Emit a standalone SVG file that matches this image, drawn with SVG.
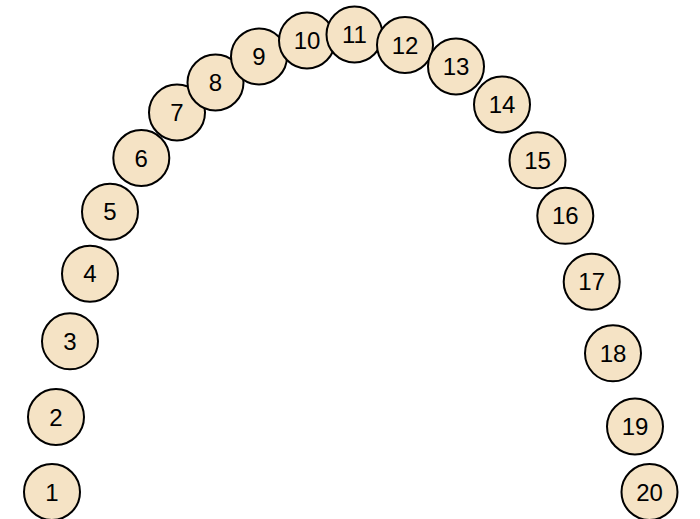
<svg xmlns="http://www.w3.org/2000/svg" width="700" height="519" viewBox="0 0 700 519">
<style>
circle{fill:#f5e3c5;stroke:#000;stroke-width:2}
text{font-family:"Liberation Sans",Arial,sans-serif;font-size:24px;fill:#000;text-anchor:middle;dominant-baseline:central}
</style>
<rect width="700" height="519" fill="#fff"/>
<g id="connectors"></g>
<g id="n1"><circle cx="52" cy="492" r="28"/><text x="52" y="492">1</text></g>
<g id="n2"><circle cx="56" cy="417" r="28"/><text x="56" y="417">2</text></g>
<g id="n3"><circle cx="70" cy="341.3" r="28"/><text x="70" y="341.3">3</text></g>
<g id="n4"><circle cx="90" cy="273.7" r="28"/><text x="90" y="273.7">4</text></g>
<g id="n5"><circle cx="110" cy="211.7" r="28"/><text x="110" y="211.7">5</text></g>
<g id="n6"><circle cx="141.3" cy="158" r="28"/><text x="141.3" y="158">6</text></g>
<g id="n7"><circle cx="177" cy="112.5" r="28"/><text x="177" y="112.5">7</text></g>
<g id="n8"><circle cx="215.5" cy="82.5" r="28"/><text x="215.5" y="82.5">8</text></g>
<g id="n9"><circle cx="259" cy="56.5" r="28"/><text x="259" y="56.5">9</text></g>
<g id="n10"><circle cx="307" cy="40.5" r="28"/><text x="307" y="40.5">10</text></g>
<g id="n11"><circle cx="354.5" cy="34.5" r="28"/><text x="354.5" y="34.5">11</text></g>
<g id="n12"><circle cx="405" cy="45" r="28"/><text x="405" y="45">12</text></g>
<g id="n13"><circle cx="456" cy="66.5" r="28"/><text x="456" y="66.5">13</text></g>
<g id="n14"><circle cx="502" cy="104.5" r="28"/><text x="502" y="104.5">14</text></g>
<g id="n15"><circle cx="537.5" cy="160.3" r="28"/><text x="537.5" y="160.3">15</text></g>
<g id="n16"><circle cx="565.3" cy="215.8" r="28"/><text x="565.3" y="215.8">16</text></g>
<g id="n17"><circle cx="591.7" cy="281.7" r="28"/><text x="591.7" y="281.7">17</text></g>
<g id="n18"><circle cx="613" cy="353.3" r="28"/><text x="613" y="353.3">18</text></g>
<g id="n19"><circle cx="635" cy="426.5" r="28"/><text x="635" y="426.5">19</text></g>
<g id="n20"><circle cx="649.5" cy="492" r="28"/><text x="649.5" y="492">20</text></g>
</svg>
